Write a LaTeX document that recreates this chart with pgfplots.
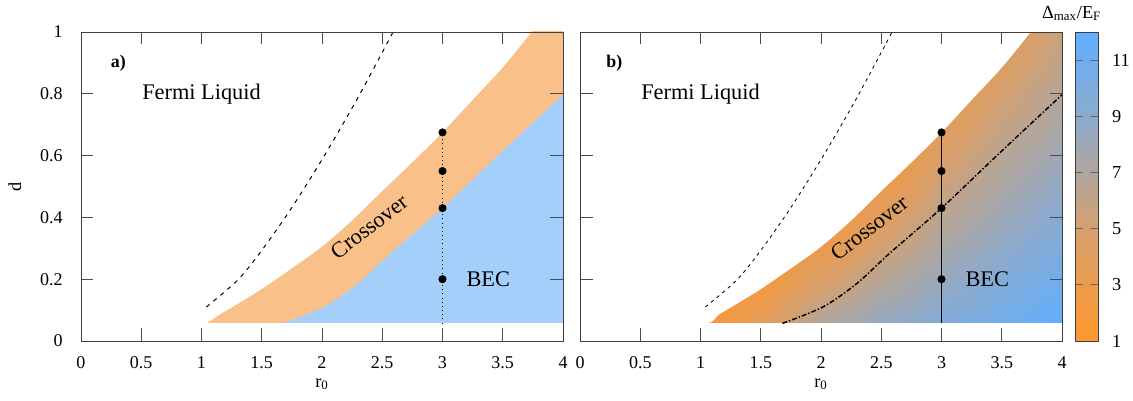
\documentclass[border=0pt]{standalone}
\usepackage{fontspec}
\setmainfont{Liberation Serif}
\usepackage{pgfplots}
\pgfplotsset{compat=1.18}
\definecolor{orA}{RGB}{250,192,138}
\definecolor{blA}{RGB}{163,207,250}
\pgfplotsset{
  pnl/.style={
    scale only axis, width=289.2pt, height=185.4pt,
    xmin=0, xmax=4, ymin=0, ymax=1,
    xtick={0,0.5,1,1.5,2,2.5,3,3.5,4},
    ytick={0,0.2,0.4,0.6,0.8,1},
    tick align=inside, major tick length=7.5pt,
    axis on top,
    /pgf/number format/assume math mode=true,
    ticklabel style={font=\fontsize{10.8}{13}\selectfont},
    xticklabel style={yshift=-6pt},
    yticklabel style={xshift=-7.5pt},
    axis line style={black!75},
    every tick/.style={black!70, line width=0.5pt},
    xlabel={r\textsubscript{0}},
    every axis x label/.style={at={(axis description cs:0.5,0)}, anchor=center, yshift=-26pt, font=\fontsize{11}{13}\selectfont},
    every axis y label/.style={at={(axis description cs:-0.137,0.5)}, rotate=90, anchor=center, font=\fontsize{11}{13}\selectfont},
    anchor=south west,
  }
}
\begin{document}
\begin{tikzpicture}
\useasboundingbox (0,0) rectangle (679.8pt,240.6pt);
% ---------------- panel a
\begin{axis}[pnl, at={(48.6pt,36pt)}, ylabel={d}]
\addplot[fill=orA, draw=none, smooth, tension=0.5] coordinates {
 (1.04,0.057) (1.15,0.085) (1.3,0.12) (1.5,0.168) (1.75,0.235) (2.0,0.305)
 (2.25,0.39) (2.5,0.485) (2.75,0.578) (3.0,0.675) (3.25,0.78) (3.5,0.885) (3.74,1.0) (4.0,1.13)
} \closedcycle;
\addplot[fill=blA, draw=none, smooth, tension=0.5] coordinates {
 (1.67,0.057) (2.02,0.111) (2.30,0.187) (2.57,0.284) (3.0,0.43) (3.5,0.615) (4.0,0.797)
} \closedcycle;
\addplot[fill=white, draw=none] coordinates {(-0.2,-0.2) (4.2,-0.2) (4.2,0.057) (-0.2,0.057)} -- cycle;
\addplot[black, line width=0.6pt, dash pattern=on 2.5pt off 3pt, smooth] coordinates {
 (1.04,0.11) (1.3,0.197) (1.5,0.293) (1.75,0.432) (2.02,0.60) (2.3,0.789) (2.59,1.0)
};
\addplot[black, dotted, line width=0.5pt] coordinates {(3,0.057) (3,0.675)};
\addplot[only marks, mark=*, mark size=2.2pt, black] coordinates {(3,0.675) (3,0.55) (3,0.43) (3,0.2)};
\node[font=\bfseries\fontsize{10.7}{13}\selectfont] at (axis cs:0.31,0.90) {a)};
\node[font=\fontsize{13.4}{15}\selectfont] at (axis cs:1.0,0.80) {Fermi Liquid};
\node[font=\fontsize{13.4}{15}\selectfont] at (axis cs:3.38,0.20) {BEC};
\node[font=\fontsize{13.4}{15}\selectfont, rotate=37.5] at (axis cs:2.39,0.37) {Crossover};
\end{axis}
% ---------------- panel b
\begin{axis}[pnl, at={(348pt,36pt)}, yticklabels={},
  colormap={ob}{rgb255(1)=(255,150,45) rgb255(5)=(214,160,110) rgb255(7)=(176,166,158) rgb255(9)=(140,170,205) rgb255(12)=(95,176,255)},
  point meta min=1, point meta max=12,
  colorbar,
  colorbar style={at={(1.027,1)}, anchor=north west, width=13.8pt,
    ytick={1,3,5,7,9,11}, ytick pos=both,
    tick align=inside, major tick length=5pt,
    every tick/.style={black!60, line width=0.5pt},
    axis line style={black!75},
    /pgf/number format/assume math mode=true,
    yticklabel style={font=\fontsize{11}{13}\selectfont, xshift=5pt},
    yticklabel pos=right}
]
\addplot[surf, shader=interp, mesh/cols=7, point meta=explicit] table[x=r, y=d, meta=v] {
r d v
1.0 0.057 1.3
1.5 0.057 3.6
2.0 0.057 7.0
2.5 0.057 8.5
3.0 0.057 9.6
3.5 0.057 10.8
4.0 0.057 11.9

1.0 0.2 1.0
1.5 0.2 1.8
2.0 0.2 4.5
2.5 0.2 6.6
3.0 0.2 8.3
3.5 0.2 9.6
4.0 0.2 10.8

1.0 0.4 1.0
1.5 0.4 1.0
2.0 0.4 1.5
2.5 0.4 4.0
3.0 0.4 6.5
3.5 0.4 8.0
4.0 0.4 9.3

1.0 0.6 1.0
1.5 0.6 1.0
2.0 0.6 1.0
2.5 0.6 1.5
3.0 0.6 4.7
3.5 0.6 6.6
4.0 0.6 8.0

1.0 0.8 1.0
1.5 0.8 1.0
2.0 0.8 1.0
2.5 0.8 1.0
3.0 0.8 2.9
3.5 0.8 5.1
4.0 0.8 6.8

1.0 1.0 1.0
1.5 1.0 1.0
2.0 1.0 1.0
2.5 1.0 1.0
3.0 1.0 1.5
3.5 1.0 3.7
4.0 1.0 5.6
};
\addplot[fill=white, draw=none, smooth, tension=0.5] coordinates {
 (-0.2,1.3) (-0.2,0.057) (0.5,0.057) (1.04,0.057) (1.15,0.085) (1.3,0.12) (1.5,0.168) (1.75,0.235) (2.0,0.305)
 (2.25,0.39) (2.5,0.485) (2.75,0.578) (3.0,0.675) (3.25,0.78) (3.5,0.885) (3.74,1.0) (4.0,1.13)
} -- cycle;
\addplot[fill=white, draw=none] coordinates {(-0.2,-0.2) (4.2,-0.2) (4.2,0.057) (-0.2,0.057)} -- cycle;
\addplot[black, line width=0.5pt, dash pattern=on 2pt off 2.4pt, smooth] coordinates {
 (1.04,0.11) (1.3,0.197) (1.5,0.293) (1.75,0.432) (2.02,0.60) (2.3,0.789) (2.59,1.0)
};
\addplot[black, line width=0.9pt, dash pattern=on 3pt off 1.2pt on 0.8pt off 1.2pt, smooth] coordinates {
 (1.68,0.057) (2.02,0.111) (2.30,0.187) (2.57,0.284) (3.0,0.43) (3.5,0.615) (4.0,0.797)
};
\addplot[black, line width=0.6pt] coordinates {(3,0.057) (3,0.675)};
\addplot[only marks, mark=*, mark size=2.2pt, black] coordinates {(3,0.675) (3,0.55) (3,0.43) (3,0.2)};
\node[font=\bfseries\fontsize{10.7}{13}\selectfont] at (axis cs:0.285,0.90) {b)};
\node[font=\fontsize{13.4}{15}\selectfont] at (axis cs:1.0,0.80) {Fermi Liquid};
\node[font=\fontsize{13.4}{15}\selectfont] at (axis cs:3.38,0.20) {BEC};
\node[font=\fontsize{13.4}{15}\selectfont, rotate=37.5] at (axis cs:2.40,0.366) {Crossover};
\end{axis}
\node[font=\fontsize{11}{13}\selectfont] at (643pt,232.5pt) {Δ\textsubscript{max}/E\textsubscript{F}};
\end{tikzpicture}
\end{document}
